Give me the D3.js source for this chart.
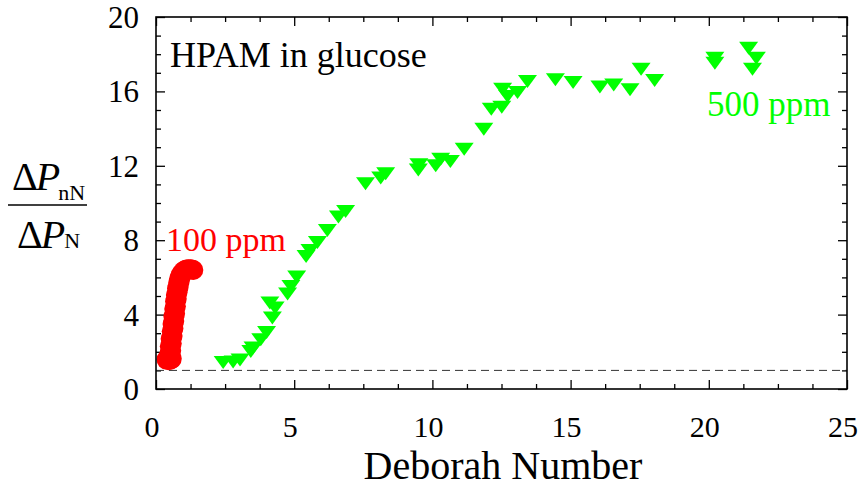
<!DOCTYPE html>
<html>
<head>
<meta charset="utf-8">
<script src="https://cdn.jsdelivr.net/npm/d3@7"></script>
<style>
  html, body { margin: 0; padding: 0; background: #fff; }
  svg { display: block; }
  svg text { font-family: "Liberation Serif", "Times New Roman", serif; }
</style>
</head>
<body>
<svg id="chart" width="860" height="490"></svg>
<script>
// ---- data ----
const deborah500 = [2.43,2.79,3.04,3.43,3.51,3.79,4.00,4.21,4.31,4.12,4.76,4.88,5.09,5.43,5.57,5.84,6.20,6.60,6.86,7.58,8.13,8.31,9.49,9.51,10.12,10.30,10.65,11.15,11.86,12.13,12.51,12.54,12.72,13.08,13.44,14.45,15.09,16.06,16.56,17.15,17.55,18.04,20.22,20.22,21.44,21.72,21.58];
const ratio500   = [1.42,1.45,1.56,2.02,2.20,2.65,3.04,3.82,4.35,4.62,5.11,5.51,6.02,7.12,7.45,7.88,8.52,9.25,9.54,11.03,11.34,11.57,11.78,12.05,12.00,12.35,12.23,12.89,13.97,15.04,15.15,16.12,15.73,15.94,16.53,16.62,16.48,16.23,16.35,16.09,17.19,16.59,17.78,17.52,18.32,17.78,17.19];
const deborah100 = [0.38,0.45,0.52,0.57,0.49,0.55,0.50,0.57,0.53,0.60,0.57,0.63,0.60,0.66,0.63,0.69,0.66,0.72,0.69,0.75,0.72,0.78,0.76,0.82,0.80,0.86,0.84,0.90,0.90,0.95,0.98,1.04,1.10,1.17,1.24,1.30,1.35];
const ratio100   = [1.58,1.55,1.57,1.62,1.90,2.05,2.30,2.45,2.70,2.85,3.10,3.25,3.50,3.65,3.90,4.05,4.30,4.45,4.70,4.85,5.05,5.20,5.40,5.50,5.70,5.80,5.95,6.05,6.15,6.22,6.32,6.38,6.42,6.44,6.44,6.42,6.40];
const xMajorTicks = [0,5,10,15,20,25];
const xMinorTicks = [1.25,2.5,3.75,6.25,7.5,8.75,11.25,12.5,13.75,16.25,17.5,18.75,21.25,22.5,23.75];
const yMajorTicks = [0,4,8,12,16,20];
const yMinorTicks = [1,2,3,5,6,7,9,10,11,13,14,15,17,18,19];
const newtonianLevel = 1;

// ---- layout ----
const L = 156, R = 847, T = 17, B = 389;
const svg = d3.select("#chart");
const x = d3.scaleLinear().domain([0,25]).range([L,R]);
const y = d3.scaleLinear().domain([0,20]).range([B,T]);

// ticks (inward on all four sides)
function tickAxis(axisFn, scale, vals, size, transform) {
  svg.append("g").attr("transform", transform)
    .call(axisFn(scale).tickValues(vals).tickSize(size).tickFormat(""))
    .call(g => g.select(".domain").remove())
    .call(g => g.selectAll("line").attr("stroke","#000").attr("stroke-width",1.3));
}
tickAxis(d3.axisBottom, x, xMajorTicks, -9, `translate(0,${B})`);
tickAxis(d3.axisBottom, x, xMinorTicks, -5, `translate(0,${B})`);
tickAxis(d3.axisTop, x, xMajorTicks, -9, `translate(0,${T})`);
tickAxis(d3.axisTop, x, xMinorTicks, -5, `translate(0,${T})`);
tickAxis(d3.axisLeft, y, yMajorTicks, -9, `translate(${L},0)`);
tickAxis(d3.axisLeft, y, yMinorTicks, -5, `translate(${L},0)`);
tickAxis(d3.axisRight, y, yMajorTicks, -9, `translate(${R},0)`);
tickAxis(d3.axisRight, y, yMinorTicks, -5, `translate(${R},0)`);

// tick labels
svg.append("g").selectAll("text").data(xMajorTicks).join("text")
  .attr("x", d => x(d) - 4).attr("y", 437)
  .attr("text-anchor","middle").attr("font-size",30).attr("fill","#000")
  .text(d => d);
svg.append("g").selectAll("text").data(yMajorTicks).join("text")
  .attr("x", 139).attr("y", d => y(d) + 11)
  .attr("text-anchor","end").attr("font-size",31).attr("fill","#000")
  .text(d => d);

// dashed reference line
svg.append("line")
  .attr("x1", L).attr("x2", R).attr("y1", y(newtonianLevel)).attr("y2", y(newtonianLevel))
  .attr("stroke","#333").attr("stroke-width",1).attr("stroke-dasharray","8,5");

// 500 ppm: down triangles
const tri = "M-9.5,-6.5L9.5,-6.5L0,6.5Z";
svg.append("g").selectAll("path").data(deborah500.map((d,i)=>[d, ratio500[i]])).join("path")
  .attr("d", tri)
  .attr("transform", d => `translate(${x(d[0])},${y(d[1])})`)
  .attr("fill","#00ff00");

// 100 ppm: red circles
svg.append("g").selectAll("circle").data(deborah100.map((d,i)=>[d, ratio100[i]])).join("circle")
  .attr("cx", d => x(d[0])).attr("cy", d => y(d[1])).attr("r", 10)
  .attr("fill","#ff0000");

// frame
svg.append("rect").attr("x",L).attr("y",T).attr("width",R-L).attr("height",B-T)
  .attr("fill","none").attr("stroke","#000").attr("stroke-width",1.6);

// annotations
svg.append("text").attr("x",170).attr("y",67).attr("font-size",36).attr("fill","#000")
  .text("HPAM in glucose");
svg.append("text").attr("x",166).attr("y",251).attr("font-size",34).attr("fill","#ff0000")
  .text("100 ppm");
svg.append("text").attr("x",707).attr("y",116).attr("font-size",35).attr("fill","#00ff00")
  .text("500 ppm");

// axis title
svg.append("text").attr("x",503).attr("y",479).attr("text-anchor","middle")
  .attr("font-size",40).attr("fill","#000").text("Deborah Number");

// y label fraction
const num = svg.append("text").attr("x",12).attr("y",190).attr("fill","#000");
num.append("tspan").attr("font-size",40).text("Δ");
num.append("tspan").attr("font-size",40).attr("font-style","italic").attr("dx",-2).text("P");
num.append("tspan").attr("font-size",22).attr("dy",10).attr("dx",-2).text("nN");
svg.append("line").attr("x1",8).attr("x2",87).attr("y1",205).attr("y2",205)
  .attr("stroke","#000").attr("stroke-width",1.5);
const den = svg.append("text").attr("x",17).attr("y",248).attr("fill","#000");
den.append("tspan").attr("font-size",40).text("Δ");
den.append("tspan").attr("font-size",40).attr("font-style","italic").attr("dx",-2).text("P");
den.append("tspan").attr("font-size",22).attr("dx",-1).text("N");
</script>
</body>
</html>
